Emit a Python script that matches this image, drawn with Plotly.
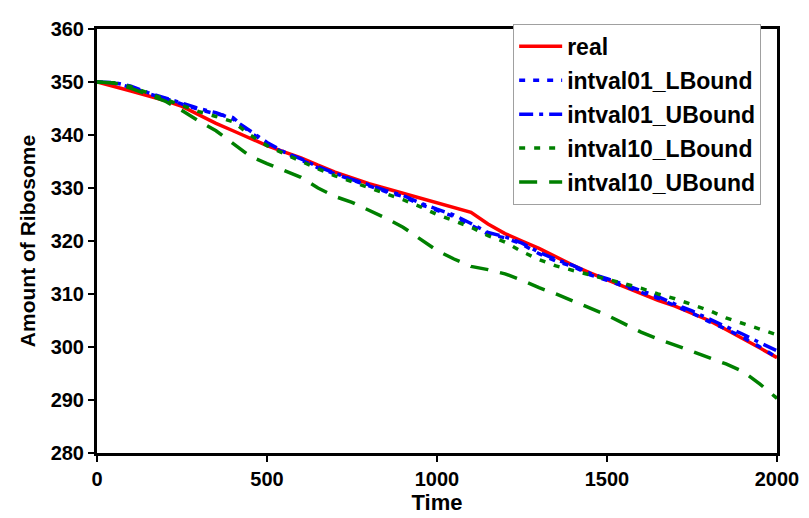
import plotly.graph_objects as go

time = list(range(0, 2001, 50))

real = [350, 349.2, 348.3, 347.4, 346.5, 345.4, 343.8, 342.2, 340.8, 339.4, 338.0, 336.8,
        335.7, 334.3, 333.0, 331.9, 330.8, 329.9, 329.0, 328.0, 327.1, 326.3, 325.4, 323.2,
        321.4, 320.0, 318.6, 317.0, 315.4, 314.0, 312.7, 311.3, 310.0, 308.8, 307.7, 306.3,
        305.0, 303.3, 301.6, 299.8, 298.0]

intval01_LBound = [350, 349.8, 349.0, 347.8, 346.9, 345.8, 344.8, 344.0, 343.3, 340.5, 338.4, 336.6,
                   335.3, 333.8, 332.6, 331.5, 330.4, 329.3, 328.4, 326.9, 325.8, 324.6, 323.0, 321.3,
                   320.6, 319.4, 317.6, 316.2, 315.2, 313.6, 312.6, 311.5, 310.3, 309.2, 307.8, 306.4,
                   304.8, 303.4, 301.8, 300.0, 298.0]

intval01_UBound = [350, 349.9, 349.2, 348.0, 347.0, 346.0, 345.0, 344.2, 343.0, 340.8, 338.6, 336.8,
                   335.5, 334.0, 332.8, 331.6, 330.6, 329.5, 328.6, 327.2, 326.0, 324.9, 323.3, 321.6,
                   320.8, 319.6, 317.9, 316.5, 315.4, 313.9, 312.9, 311.8, 310.6, 309.5, 308.1, 306.8,
                   305.3, 303.9, 302.4, 300.8, 299.3]

intval10_LBound = [350, 349.8, 349.1, 347.9, 346.8, 345.6, 344.4, 343.5, 342.5, 340.0, 338.0, 336.5,
                   335.0, 333.6, 332.3, 331.2, 330.0, 329.0, 327.8, 326.5, 325.0, 323.8, 322.6, 321.0,
                   319.8, 318.0, 316.5, 315.3, 314.4, 313.6, 312.8, 312.0, 311.1, 310.0, 309.1, 308.0,
                   306.9, 305.5, 304.4, 303.3, 302.3]

intval10_UBound = [350, 349.8, 348.8, 347.6, 346.4, 344.6, 342.6, 340.8, 338.3, 336.0, 334.6, 333.3,
                   332.0, 330.0, 328.4, 327.3, 325.8, 324.3, 322.6, 320.3, 318.2, 316.6, 315.2, 314.6,
                   313.8, 312.6, 311.2, 310.0, 308.7, 307.4, 306.0, 304.4, 302.8, 301.5, 300.4, 299.2,
                   298.0, 296.8, 295.4, 293.0, 290.3]

y_ticks = [280, 290, 300, 310, 320, 330, 340, 350, 360]
x_ticks = [0, 500, 1000, 1500, 2000]

series = [
    ("real", real, "#ff0000", "solid"),
    ("intval01_LBound", intval01_LBound, "#0000ff", "6px,8px"),
    ("intval01_UBound", intval01_UBound, "#0000ff", "14px,6px,4px,6px"),
    ("intval10_LBound", intval10_LBound, "#008000", "6px,9px"),
    ("intval10_UBound", intval10_UBound, "#008000", "18px,12px"),
]

fig = go.Figure()
for name, vals, color, dash in series:
    fig.add_trace(go.Scatter(x=time, y=vals, mode="lines", name=name, legendgroup=name,
                             line=dict(color=color, width=3.5, dash=dash)))

font_family = "Liberation Sans, Arial, sans-serif"
fig.update_layout(
    width=809, height=518,
    margin=dict(l=89, r=40, t=10, b=73),
    paper_bgcolor="white", plot_bgcolor="white",
    showlegend=True,
    legend=dict(x=0.612, y=1.012, xanchor="left", yanchor="top",
                bgcolor="white", bordercolor="#a0a0a0", borderwidth=1,
                itemwidth=43,
                font=dict(family=font_family, size=23, color="black", weight="bold"),
                tracegroupgap=1),
    xaxis=dict(range=[0, 2000], tickvals=x_ticks, showgrid=False, zeroline=False,
               showline=True, linecolor="black", linewidth=3, mirror=True,
               ticks="outside", ticklen=6, tickwidth=2, tickcolor="black",
               tickfont=dict(family=font_family, size=20, color="black", weight="bold"),
               title=dict(text="Time", standoff=0,
                          font=dict(family=font_family, size=22, color="black", weight="bold"))),
    yaxis=dict(range=[280, 360], tickvals=y_ticks, showgrid=False, zeroline=False,
               showline=True, linecolor="black", linewidth=3, mirror=True,
               ticks="outside", ticklen=6, tickwidth=2, tickcolor="black",
               tickfont=dict(family=font_family, size=20, color="black", weight="bold"),
               title=dict(text="Amount of Ribosome", standoff=10,
                          font=dict(family=font_family, size=21, color="black", weight="bold"))),
)

fig.write_html("out.html")
